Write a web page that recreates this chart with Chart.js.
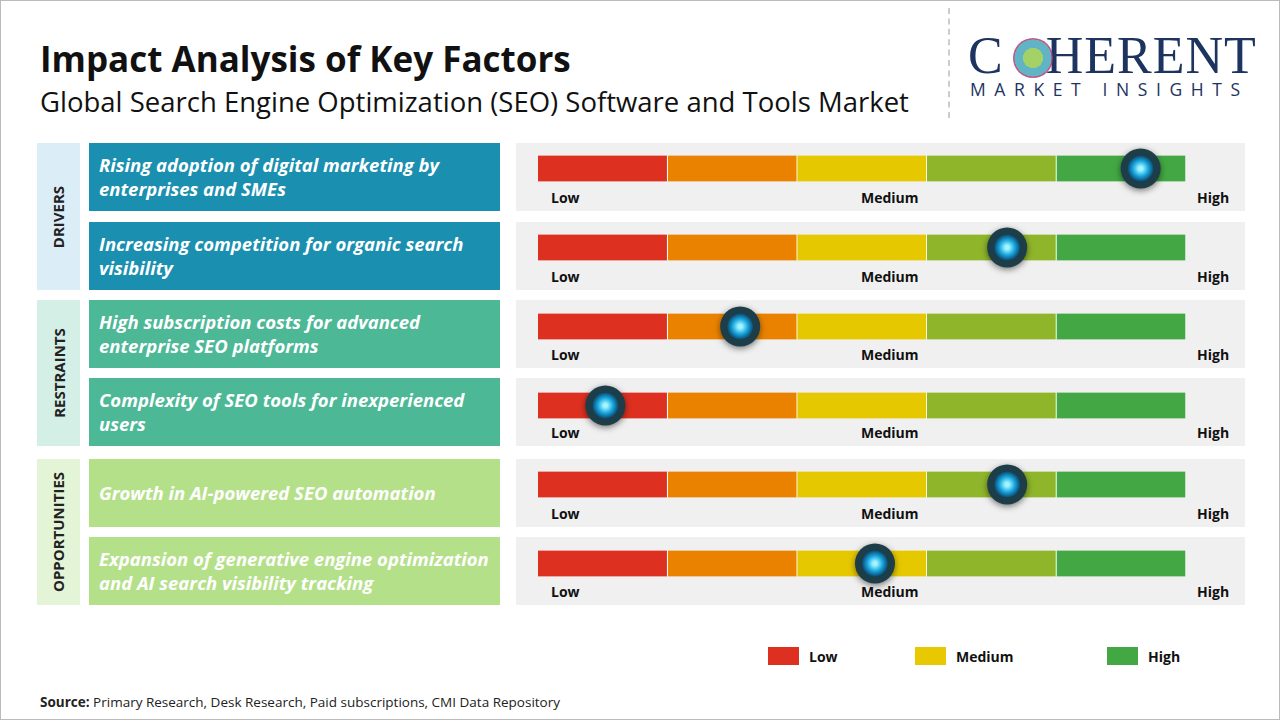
<!DOCTYPE html>
<html><head><meta charset="utf-8">
<script src="https://cdn.jsdelivr.net/npm/chart.js@4"></script>
<style>
body{margin:0;width:1280px;height:720px;position:relative;font-family:"Open Sans",sans-serif;background:#fff;overflow:hidden}
.a{position:absolute}
.fr{position:absolute;left:0;top:0;width:1278px;height:718px;border:1px solid #bbb}
.t1{left:40px;top:35px;font-size:35px;font-weight:bold;color:#111}
.t2{left:40px;top:83px;font-size:27.5px;color:#111}
.side{left:37px;width:43px;display:flex;align-items:center;justify-content:center}
.side span{transform:rotate(-90deg);white-space:nowrap;font-weight:bold;font-size:15px;color:#222}
.fac{left:89px;width:401px;padding-left:10px;display:flex;align-items:center;font-style:italic;font-weight:bold;font-size:18.5px;line-height:24px;color:#fff}
.bg{left:516px;width:729px;background:#f0f0f0}
.lb{font-size:14px;font-weight:bold;color:#111}
</style></head><body>
<div class="fr"></div>
<div class="a t1">Impact Analysis of Key Factors</div>
<div class="a t2">Global Search Engine Optimization (SEO) Software and Tools Market</div>
<div class="a" style="left:948px;top:8px;height:110px;border-left:2px dashed #ccc"></div>
<div class="a" style="left:968px;top:26px;font-family:'Liberation Serif',serif;font-size:52px;color:#1d3461;letter-spacing:1px">C<span style="display:inline-block;width:42px"></span>HERENT</div>
<div class="a" style="left:1013px;top:38px;width:40px;height:40px;border-radius:50%;background:radial-gradient(circle,#8cc63f 0 35%,#3aa0b8 36% 65%,#b0306a 66% 100%);opacity:.8"></div>
<div class="a" style="left:970px;top:77px;font-size:17.5px;letter-spacing:8.6px;color:#1d3461">MARKET INSIGHTS</div>

<div class="a side" style="top:143px;height:147px;background:#dbeef8"><span>DRIVERS</span></div>
<div class="a side" style="top:300px;height:146px;background:#d3efe6"><span>RESTRAINTS</span></div>
<div class="a side" style="top:459px;height:146px;background:#e3f5d6"><span>OPPORTUNITIES</span></div>
<div id="rows"></div>
<div class="a" style="left:518px;top:120px;width:688px;height:492px"><canvas id="c"></canvas></div>

<div class="a" style="left:768px;top:647px;width:31px;height:18px;background:#dd3020"></div>
<div class="a lb" style="left:809px;top:647px">Low</div>
<div class="a" style="left:915px;top:647px;width:31px;height:18px;background:#e8c800"></div>
<div class="a lb" style="left:956px;top:647px">Medium</div>
<div class="a" style="left:1107px;top:647px;width:31px;height:18px;background:#43a843"></div>
<div class="a lb" style="left:1148px;top:647px">High</div>
<div class="a" style="left:40px;top:693px;font-size:13.5px;color:#222"><b>Source:</b> Primary Research, Desk Research, Paid subscriptions, CMI Data Repository</div>
<script>
const factors=["Rising adoption of digital marketing by enterprises and SMEs","Increasing competition for organic search visibility","High subscription costs for advanced enterprise SEO platforms","Complexity of SEO tools for inexperienced users","Growth in AI-powered SEO automation","Expansion of generative engine optimization and AI search visibility tracking"];
const factorColors=["#1a8fb0","#1a8fb0","#4db896","#4db896","#b5e08a","#b5e08a"];
const impact=[4.65,3.62,1.56,0.52,3.62,2.6];
const segColors=["#dd3020","#ea8200","#e6c800","#8fb52a","#43a843"];
const scaleLabels=["Low","Medium","High"];
const rowTops=[143,222,300,378,459,537];
let h='';
rowTops.forEach((t,i)=>{
 h+=`<div class="a fac" style="top:${t}px;height:68px;background:${factorColors[i]}">${factors[i]}</div>`;
 h+=`<div class="a bg" style="top:${t}px;height:68px"></div>`;
 h+=`<div class="a lb" style="left:551px;top:${t+45}px">${scaleLabels[0]}</div><div class="a lb" style="left:861px;top:${t+45}px">${scaleLabels[1]}</div><div class="a lb" style="left:1197px;top:${t+45}px">${scaleLabels[2]}</div>`;
});
document.getElementById('rows').innerHTML=h;
const knob={id:'knob',afterDatasetsDraw(ch){const c=ch.ctx,x=ch.scales.x,y=ch.scales.y;
 impact.forEach((v,i)=>{const px=x.getPixelForValue(v),py=y.getPixelForValue(i);
  c.save();c.shadowColor='rgba(0,0,0,.5)';c.shadowBlur=6;c.shadowOffsetY=2;
  c.beginPath();c.arc(px,py,20,0,7);c.fillStyle='#1d3d48';c.fill();c.restore();
  let g=c.createRadialGradient(px,py,2,px,py,13);g.addColorStop(0,'#9ff4ff');g.addColorStop(.5,'#1aa8e0');g.addColorStop(1,'#0a4a70');
  c.beginPath();c.arc(px,py,13,0,7);c.fillStyle=g;c.fill();
 });}};
new Chart(document.getElementById('c'),{type:'bar',
 data:{labels:factors,datasets:segColors.map(col=>({data:factors.map(()=>1),backgroundColor:col,borderColor:'#fff',borderWidth:{right:1},barThickness:26,borderSkipped:false}))},
 options:{indexAxis:'y',responsive:true,maintainAspectRatio:false,animation:false,layout:{padding:{left:20,right:20,top:9,bottom:9}},
  plugins:{legend:{display:false},tooltip:{enabled:false}},
  scales:{x:{stacked:true,min:0,max:5,display:false},y:{stacked:true,display:false}}},
 plugins:[knob]});
</script></body></html>
